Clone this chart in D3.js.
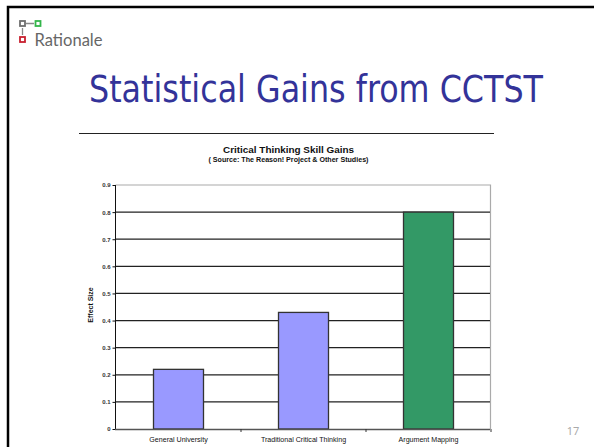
<!DOCTYPE html>
<html><head><meta charset="utf-8">
<script src="https://cdn.jsdelivr.net/npm/d3@7"></script>
<style>html,body{margin:0;padding:0;background:#fff}svg{display:block}text{font-family:"Liberation Sans",Arial,sans-serif}</style>
</head><body><div id="c"></div>
<script>
const categories = ["General University","Traditional Critical Thinking","Argument Mapping"];
const values = [0.22,0.43,0.80];
const barColors = ["#9999ff","#9999ff","#339966"];
const tickValues = [0,0.1,0.2,0.3,0.4,0.5,0.6,0.7,0.8,0.9];
const slideTitle = "Statistical Gains from CCTST";
const chartTitle = "Critical Thinking Skill Gains";
const chartSubtitle = "( Source: The Reason! Project & Other Studies)";
const yLabel = "Effect Size";
const pageNumber = "17";
const W=594,H=447;
const svg=d3.select("#c").append("svg").attr("width",W).attr("height",H);
svg.append("rect").attr("width",W).attr("height",H).attr("fill","#fff");
// slide frame
svg.append("path").attr("d","M8 447V7H594").attr("fill","none").attr("stroke","#000").attr("stroke-width",2.5);
// logo
const logo=svg.append("g");
logo.append("path").attr("d","M26 23.5H34M22.5 28V35").attr("stroke","#888").attr("stroke-width",1.3).attr("fill","none");
[[22.5,23.5,"#6e6e6e"],[38,23.5,"#33b54a"],[22.5,39.5,"#c8202f"]].forEach(d=>logo.append("rect").attr("x",d[0]-2.5).attr("y",d[1]-2.5).attr("width",5).attr("height",5).attr("fill","#fff").attr("stroke",d[2]).attr("stroke-width",1.8));
logo.append("text").attr("x",34.5).attr("y",46).attr("font-size",18).attr("fill","#666").style("font-family","'Lato'").attr("textLength",68).attr("lengthAdjust","spacingAndGlyphs").text("Rationale");
// slide title
svg.append("text").attr("x",89).attr("y",102).attr("font-size",37).attr("fill","#333399").style("font-family","'DejaVu Sans Condensed','DejaVu Sans'").style("font-stretch","condensed").attr("textLength",454).attr("lengthAdjust","spacingAndGlyphs").text(slideTitle);
svg.append("line").attr("x1",79).attr("x2",494).attr("y1",133.5).attr("y2",133.5).attr("stroke","#222").attr("stroke-width",1);
// chart titles
svg.append("text").attr("x",288.5).attr("y",153).attr("text-anchor","middle").attr("font-size",9.5).attr("font-weight","bold").attr("fill","#111").attr("textLength",131).attr("lengthAdjust","spacingAndGlyphs").text(chartTitle);
svg.append("text").attr("x",288.5).attr("y",162).attr("text-anchor","middle").attr("font-size",6.5).attr("font-weight","bold").attr("fill","#111").attr("textLength",160).attr("lengthAdjust","spacingAndGlyphs").text(chartSubtitle);
// scales
const x=d3.scaleBand().domain(categories).range([116,491]).paddingInner(0.6).paddingOuter(0.3);
const y=d3.scaleLinear().domain([0,0.9]).range([429,185]);
// plot frame
svg.append("path").attr("d",`M115.5 ${y(0.9)}H490.5V${y(0)}`).attr("fill","none").attr("stroke","#aaa").attr("stroke-width",1.2);
// grid
svg.append("g").selectAll("line").data(tickValues.filter(d=>d>0&&d<0.9)).join("line")
 .attr("x1",115).attr("x2",490).attr("y1",d=>y(d)).attr("y2",d=>y(d)).attr("stroke","#222").attr("stroke-width",1.3);
// bars
svg.append("g").selectAll("rect").data(values).join("rect")
 .attr("x",(d,i)=>x(categories[i])).attr("width",x.bandwidth()).attr("y",d=>y(d)).attr("height",d=>y(0)-y(d))
 .attr("fill",(d,i)=>barColors[i]).attr("stroke","#333").attr("stroke-width",1.3);
// y axis
const ya=svg.append("g").attr("transform","translate(115.5,0)").call(d3.axisLeft(y).tickValues(tickValues).tickSize(3).tickFormat(d=>d===0?"0":d3.format(".1f")(d)));
ya.selectAll("path,line").attr("stroke","#111");
ya.select("path").attr("d",`M0 ${y(0.9)}V${y(0)}`);
ya.selectAll("text").attr("font-size",6).attr("font-weight","bold").attr("fill","#333").attr("x",-5).style("font-family","'Liberation Sans'");
// x axis
const xa=svg.append("g").attr("transform",`translate(0,${y(0)+.5})`).call(d3.axisBottom(x).tickSize(0));
xa.select("path").attr("stroke","#555").attr("stroke-width",1.3).attr("d","M115 0H490");
xa.selectAll("text").attr("font-size",7.1).attr("fill","#111").attr("y",7.5).style("font-family","'Liberation Sans'");
svg.append("g").selectAll("line").data(categories).join("line")
 .attr("x1",(d,i)=>x(categories[i])+x.bandwidth()+x.step()*0.3).attr("x2",(d,i)=>x(categories[i])+x.bandwidth()+x.step()*0.3)
 .attr("y1",y(0)).attr("y2",y(0)+3).attr("stroke","#333");
// y label
svg.append("text").attr("transform","translate(92.5,305) rotate(-90)").attr("text-anchor","middle").attr("font-size",7).attr("font-weight","bold").attr("fill","#111").text(yLabel);
// page number
svg.append("text").attr("x",573).attr("y",435).attr("text-anchor","middle").attr("font-size",11).attr("fill","#aaa").style("font-family","'Noto Sans'").text(pageNumber);
</script></body></html>
